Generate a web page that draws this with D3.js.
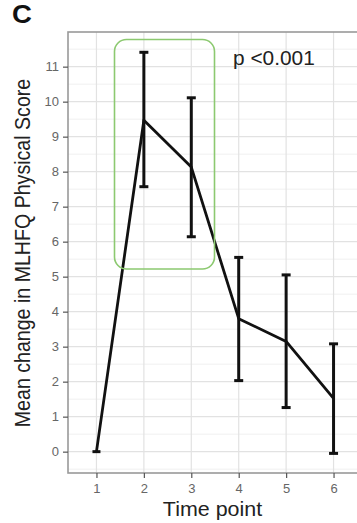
<!DOCTYPE html>
<html><head><meta charset="utf-8">
<script src="https://cdn.jsdelivr.net/npm/d3@7"></script>
<style>body{margin:0;background:#fff;}svg{display:block;font-family:"Liberation Sans",Arial,sans-serif;}</style>
</head><body>
<script>
const timePoints = [1, 2, 3, 4, 5, 6];
const meanChange = [0, 9.47, 8.13, 3.8, 3.15, 1.52];
const errUpper = [0, 11.41, 10.11, 5.55, 5.05, 3.08];
const errLower = [0, 7.57, 6.14, 2.03, 1.26, -0.05];
const yTicks = [0,1,2,3,4,5,6,7,8,9,10,11];
const yMinor = [-0.5,0.5,1.5,2.5,3.5,4.5,5.5,6.5,7.5,8.5,9.5,10.5,11.5];
const pLabel = "p <0.001";

(function(){
const W = 357, H = 523;
const svg = d3.select("body").append("svg").attr("width", W).attr("height", H);

const pLeft = 68, pTop = 32, pBottom = 473, pRight = 362;
const x = d3.scaleLinear().domain([0.4, 6.6]).range([pLeft, pRight]);
const y = d3.scaleLinear().domain([-0.61, 11.99]).range([pBottom, pTop]);

svg.append("rect").attr("x", pLeft).attr("y", pTop).attr("width", pRight - pLeft).attr("height", pBottom - pTop).attr("fill", "#fff");
const grid = svg.append("g");
grid.selectAll(".ymin").data(yMinor).join("line")
  .attr("x1", pLeft).attr("x2", pRight).attr("y1", d => y(d)).attr("y2", d => y(d))
  .attr("stroke", "#f0f0f0").attr("stroke-width", 1);
grid.selectAll(".ymaj").data(yTicks).join("line")
  .attr("x1", pLeft).attr("x2", pRight).attr("y1", d => y(d)).attr("y2", d => y(d))
  .attr("stroke", "#e2e2e2").attr("stroke-width", 1.2);
grid.selectAll(".xmaj").data(timePoints).join("line")
  .attr("x1", d => x(d)).attr("x2", d => x(d)).attr("y1", pTop).attr("y2", pBottom)
  .attr("stroke", "#e2e2e2").attr("stroke-width", 1.2);

svg.append("rect").attr("x", pLeft).attr("y", pTop).attr("width", pRight - pLeft).attr("height", pBottom - pTop)
  .attr("fill", "none").attr("stroke", "#999").attr("stroke-width", 1.6);

const yAxis = svg.append("g").attr("transform", `translate(${pLeft},0)`)
  .call(d3.axisLeft(y).tickValues(yTicks).tickSize(5).tickPadding(4));
yAxis.select(".domain").remove();
yAxis.selectAll("line").attr("stroke", "#555").attr("stroke-width", 1.2);
yAxis.selectAll("text").attr("fill", "#666").attr("font-size", 13).attr("font-family", "Liberation Sans, Arial, sans-serif");

const xAxis = svg.append("g").attr("transform", `translate(0,${pBottom})`)
  .call(d3.axisBottom(x).tickValues(timePoints).tickFormat(d3.format("d")).tickSize(5).tickPadding(6));
xAxis.select(".domain").remove();
xAxis.selectAll("line").attr("stroke", "#555").attr("stroke-width", 1.2);
xAxis.selectAll("text").attr("fill", "#666").attr("font-size", 13).attr("font-family", "Liberation Sans, Arial, sans-serif");

const data = timePoints.map((t, i) => ({t, m: meanChange[i], hi: errUpper[i], lo: errLower[i]}));
const eb = svg.append("g").attr("stroke", "#111").attr("stroke-width", 3);
data.filter(d => d.hi !== d.lo).forEach(d => {
  eb.append("line").attr("x1", x(d.t)).attr("x2", x(d.t)).attr("y1", y(d.hi)).attr("y2", y(d.lo));
  eb.append("line").attr("x1", x(d.t) - 4.5).attr("x2", x(d.t) + 4.5).attr("y1", y(d.hi)).attr("y2", y(d.hi));
  eb.append("line").attr("x1", x(d.t) - 4.5).attr("x2", x(d.t) + 4.5).attr("y1", y(d.lo)).attr("y2", y(d.lo));
});
svg.append("path").datum(data)
  .attr("d", d3.line().x(d => x(d.t)).y(d => y(d.m)))
  .attr("fill", "none").attr("stroke", "#111").attr("stroke-width", 2.8).attr("stroke-linejoin", "round");
svg.append("line").attr("x1", x(1) - 4).attr("x2", x(1) + 4).attr("y1", y(0)).attr("y2", y(0))
  .attr("stroke", "#111").attr("stroke-width", 3);

svg.append("rect").attr("x", 114.5).attr("y", 39.5).attr("width", 100).attr("height", 229.5)
  .attr("rx", 12).attr("ry", 12).attr("fill", "none").attr("stroke", "#8cc970").attr("stroke-width", 1.6);

svg.append("text").attr("transform", "translate(233,65) scale(1.07,1)").attr("font-size", 19.5).attr("fill", "#222").text(pLabel);
svg.append("text").attr("transform", "translate(12,23) scale(1.1,1)").attr("font-size", 25).attr("font-weight", "bold").attr("fill", "#111").text("C");
svg.append("text").attr("transform", `translate(30,253) rotate(-90) scale(1,1.1)`)
  .attr("text-anchor", "middle").attr("font-size", 19.6).attr("fill", "#222").text("Mean change in MLHFQ Physical Score");
svg.append("text").attr("transform", "translate(212.5,516) scale(1.1,1)").attr("text-anchor", "middle").attr("font-size", 19.5).attr("fill", "#222").text("Time point");
})();
</script>
</body></html>
